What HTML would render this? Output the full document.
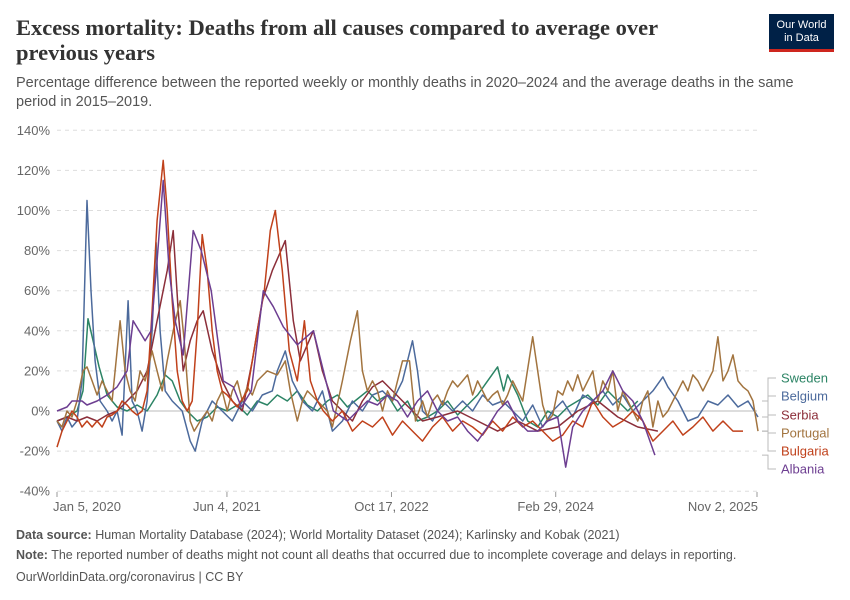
<!DOCTYPE html>
<html><head><meta charset="utf-8">
<style>
body{margin:0;background:#fff;font-family:"Liberation Sans",sans-serif;}
#wrap{position:relative;width:850px;height:600px;overflow:hidden;}
.t{position:absolute;white-space:nowrap;}
</style></head><body>
<div id="wrap">
<div class="t" style="left:16px;top:15px;font-family:'Liberation Serif',serif;font-size:22.5px;font-weight:bold;color:#333;line-height:25px;">Excess mortality: Deaths from all causes compared to average over<br>previous years</div>
<div class="t" style="left:16px;top:74px;font-size:14.5px;color:#555;line-height:18.5px;">Percentage difference between the reported weekly or monthly deaths in 2020–2024 and the average deaths in the same<br>period in 2015–2019.</div>
<div style="position:absolute;left:769px;top:14px;width:65px;height:38px;background:#002147;border-bottom:3px solid #ce261e;color:#fff;font-size:11px;text-align:center;line-height:13px;padding-top:5px;box-sizing:border-box;">Our World<br>in Data</div>
<svg id="chart" width="850" height="600" style="position:absolute;left:0;top:0;"></svg>
<div class="t" style="left:16px;top:528px;font-size:12.5px;color:#555;"><b>Data source:</b> Human Mortality Database (2024); World Mortality Dataset (2024); Karlinsky and Kobak (2021)</div>
<div class="t" style="left:16px;top:548px;font-size:12.5px;color:#555;"><b>Note:</b> The reported number of deaths might not count all deaths that occurred due to incomplete coverage and delays in reporting.</div>
<div class="t" style="left:16px;top:570px;font-size:12.5px;color:#555;">OurWorldinData.org/coronavirus | CC BY</div>
</div>
<script>
const yTicks=[140,120,100,80,60,40,20,0,-20,-40];
const xTickLabels=["Jan 5, 2020","Jun 4, 2021","Oct 17, 2022","Feb 29, 2024","Nov 2, 2025"];
const xTickMonths=[0,16.97,33.4,49.8,69.9];
const names=["Sweden","Belgium","Serbia","Portugal","Bulgaria","Albania"];
const colors=["#2c8465","#4c6a9c","#8c2f3a","#a2743f","#c0411b","#6d3e91"];
const sweden=[[0,-5],[1,-3],[2,0],[2.6,10],[3.1,46],[3.6,35],[4.2,22],[5,8],[6,2],[7,0],[8,3],[9,0],[10,8],[10.8,18],[11.5,15],[12.3,5],[13,0],[14,-5],[15,-3],[16,2],[17,0],[18,3],[19,-2],[20,5],[21,3],[22,8],[23,5],[24,10],[25,3],[26,0],[27,5],[28,8],[29,2],[30,6],[31,10],[32,5],[33,8],[34,0],[35,5],[36,-5],[37,-3],[38,0],[39,5],[40,-2],[41,3],[42,8],[43,15],[44,22],[44.6,10],[45,18],[46,8],[47,-5],[48,-8],[49,0],[50,-3],[51,2],[52,5],[53,8],[54,3],[55,10],[56,5],[57,0],[58,5]];
const belgium=[[0,-5],[0.5,-10],[1,-3],[1.5,-8],[2,-5],[2.5,15],[3.0,105],[3.4,60],[3.8,25],[4.3,5],[5,0],[5.5,-5],[6,0],[6.5,-12],[7.1,55],[7.5,5],[8,0],[8.5,-10],[9,5],[9.5,40],[9.9,84],[10.3,40],[10.8,10],[11.5,5],[12.5,0],[13.3,-15],[13.8,-20],[14.5,-5],[15.5,5],[16.5,0],[17.5,-5],[18.5,5],[19.5,0],[20.5,8],[21.5,10],[22,20],[22.8,30],[23.5,15],[24.5,5],[25.5,0],[26.5,10],[27.5,-10],[28.5,-5],[29.5,5],[30.5,0],[31.5,8],[32.5,10],[33.5,5],[34.5,15],[35.5,35],[36,20],[36.5,0],[37.5,-5],[38.5,5],[39.5,0],[40.5,5],[41.5,0],[42.5,8],[43.5,3],[44.5,5],[45.5,0],[46.5,-5],[47.5,3],[48.5,-8],[49.5,0],[50.5,5],[51.5,-3],[52.5,8],[53.5,5],[54.5,10],[55.5,3],[56.5,8],[57.5,0],[58.5,5],[59.5,10],[60.5,17],[61,12],[62,5],[63,-5],[64,-3],[65,5],[66,3],[67,8],[68,2],[69,5],[70,-3]];
const serbia=[[0,-5],[1,-3],[2,-5],[3,-3],[4,-5],[5,-2],[6,0],[7,5],[8,10],[9,20],[10,45],[11,70],[11.6,90],[12.1,50],[12.6,20],[13.3,35],[14,45],[14.6,50],[15.5,30],[16.5,15],[17.5,5],[18.5,0],[19.5,25],[20.5,55],[21.5,70],[22.8,85],[23.6,45],[24.3,25],[25.6,40],[26.5,20],[27.5,5],[28.5,0],[29.5,-5],[30.5,5],[31.5,12],[32.5,15],[33.5,10],[34.5,5],[35.5,0],[36.5,-5],[38,-3],[40,0],[42,-5],[44,-10],[46,-5],[48,-10],[50,-8],[52,0],[54,5],[56,-3],[58,-8],[60,-10]];
const portugal=[[0,-5],[0.5,-8],[1,0],[1.5,-3],[2,5],[2.6,20],[3,22],[3.5,15],[4,8],[4.5,15],[5,10],[5.5,5],[6.3,45],[6.8,20],[7.3,10],[7.8,5],[8.3,20],[8.8,15],[9.5,30],[10,20],[10.5,10],[11,25],[11.6,40],[12.3,55],[12.7,35],[13.3,-5],[13.7,-10],[14.3,-5],[15,0],[15.5,-5],[16,5],[16.5,10],[17,0],[17.5,10],[18,15],[18.5,5],[19,12],[19.5,8],[20,15],[21,20],[22,18],[22.8,25],[23.3,10],[24,-5],[24.5,5],[25,10],[26,5],[27,0],[27.5,-8],[28.5,15],[29.3,35],[30,50],[30.5,20],[31,10],[31.5,15],[32,10],[32.5,0],[33,10],[33.5,5],[34,15],[34.5,25],[35.2,25],[35.8,-5],[36.5,5],[37,-3],[37.5,5],[38,8],[38.5,3],[39,10],[39.5,15],[40,12],[41,18],[41.5,8],[42,15],[42.5,10],[43,5],[43.5,8],[44,10],[44.5,3],[45,8],[45.5,15],[46,10],[46.5,5],[47.5,37],[48,20],[48.5,3],[49,-5],[49.5,-2],[50,10],[50.5,8],[51,15],[51.5,10],[52,18],[52.5,10],[53,15],[53.5,20],[54,5],[54.5,15],[55,10],[55.5,20],[56,0],[56.5,10],[57,5],[57.5,0],[58,-5],[58.5,5],[59,10],[59.5,-8],[60,5],[60.5,-3],[61,0],[61.5,5],[62,10],[62.5,15],[63,10],[63.5,18],[64,15],[64.5,10],[65,15],[65.5,20],[66,37],[66.5,15],[67,20],[67.5,28],[68,15],[68.5,12],[69,10],[69.5,5],[70,-10]];
const bulgaria=[[0,-18],[0.5,-10],[1,-5],[1.5,0],[2,-3],[2.5,-8],[3,-5],[3.5,-8],[4,-5],[4.5,-8],[5,-3],[5.5,-2],[6,0],[6.5,5],[7,3],[7.5,0],[8,-2],[8.5,0],[9,10],[9.5,50],[10,95],[10.6,125],[11,100],[11.5,55],[12,20],[12.5,5],[13,0],[13.5,5],[14,40],[14.5,88],[15,70],[15.5,40],[16,20],[16.5,10],[17,8],[17.5,5],[18,2],[19,10],[20,40],[20.7,60],[21.3,90],[21.8,100],[22.5,70],[23.2,30],[24,15],[24.7,45],[25.3,15],[26,5],[26.6,0],[27.5,-5],[28.5,0],[29.5,-10],[30.5,-5],[31.5,-8],[32.5,-3],[33.5,-12],[34.5,-5],[35.5,-10],[36.5,-15],[37.5,-8],[38.5,-3],[39.5,-10],[40.5,-5],[41.5,-8],[42.5,-12],[43.5,-5],[44.5,-10],[45.5,-3],[46.5,-8],[47.5,-5],[48.5,-10],[49.5,-15],[50.5,-12],[51.5,-5],[52.5,-8],[53.5,5],[54.5,-3],[55.5,-8],[56.5,-5],[57.5,0],[58.5,-5],[59.5,-15],[60.5,-10],[61.5,-5],[62.5,-12],[63.5,-8],[64.5,-3],[65.5,-10],[66.5,-5],[67.5,-10],[68.5,-10]];
const albania=[[0,0],[1,2],[1.5,5],[2.5,5],[3,3],[4,5],[5,8],[6,12],[7,20],[7.6,45],[8.2,40],[8.8,35],[9.4,40],[10,75],[10.6,115],[11.2,70],[11.8,45],[12.6,28],[13.6,90],[14.4,80],[15.4,60],[16.6,15],[17.6,12],[18.4,2],[19.4,10],[20,35],[20.6,60],[21.6,52],[22.6,42],[24,33],[25.6,40],[26.6,20],[27.6,0],[29,-5],[30,0],[31,5],[32,3],[33,8],[34,5],[35,-3],[36,5],[37,10],[38,0],[39,-5],[40,-3],[41,-10],[42,-15],[43,-8],[44,0],[45,5],[46,-5],[47,-10],[48,-10],[49,-5],[50,-3],[50.8,-28],[51.5,-8],[52.5,0],[53.5,5],[54.5,10],[55.5,20],[56.5,10],[57.5,5],[58.5,-5],[59.7,-22]];
const seriesData=[sweden,belgium,serbia,portugal,bulgaria,albania];
const labelY=[378,396,415,433,451,469];
const NS="http://www.w3.org/2000/svg";
const svg=document.getElementById('chart');
const x0=57,x1=757;
function xs(m){return x0+(m/69.9)*(x1-x0);}
function ys(v){return 411-v*2.005;}
function mk(t,a){const e=document.createElementNS(NS,t);for(const k in a)e.setAttribute(k,a[k]);svg.appendChild(e);return e;}
yTicks.forEach(v=>{
  const l=mk('line',{x1:x0,x2:x1,y1:ys(v),y2:ys(v),stroke:v===0?'#bbb':'#ddd','stroke-width':1,'stroke-dasharray':v===0?'':'4,4'});
  
  
  const t=mk('text',{x:50,y:ys(v)+4.5,'text-anchor':'end','font-size':13,fill:'#666','font-family':'Liberation Sans, sans-serif'});
  t.textContent=v+'%';
  
  
});
xTickLabels.forEach((s,i)=>{
  const x=xs(xTickMonths[i]);
  const tk=mk('line',{x1:x,x2:x,y1:492,y2:497,stroke:'#999'});
  
  
  const anchor=i===0?'start':(i===xTickLabels.length-1?'end':'middle');
  const t=mk('text',{x:i===0?x-4:(i===xTickLabels.length-1?x+1:x),y:511,'text-anchor':anchor,'font-size':13,fill:'#666','font-family':'Liberation Sans, sans-serif'});
  t.textContent=s;
  
  
});
seriesData.forEach((d,i)=>{
  const p=mk('path',{d:d.map((pt,j)=>(j?'L':'M')+xs(pt[0]).toFixed(1)+','+ys(pt[1]).toFixed(1)).join(''),fill:'none',stroke:colors[i],'stroke-width':1.5,'stroke-linejoin':'round'});
  
  
  const last=d[d.length-1];
  const c=mk('path',{d:`M762,${ys(last[1]).toFixed(1)}H768V${labelY[i]}H776`,fill:'none',stroke:'#bbb','stroke-width':1});
  
  
  const t=mk('text',{x:781,y:labelY[i]+4.5,'font-size':13,fill:colors[i],'font-family':'Liberation Sans, sans-serif'});
  t.textContent=names[i];
  
  
});
</script>
</body></html>
